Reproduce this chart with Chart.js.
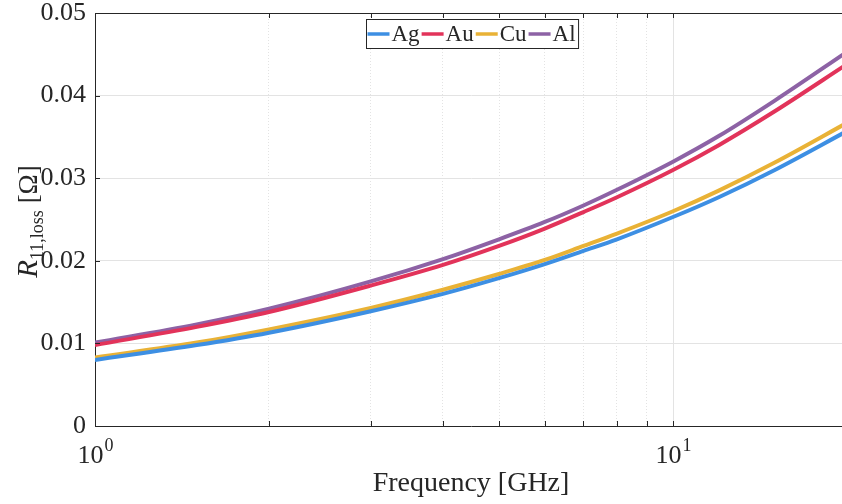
<!DOCTYPE html>
<html lang="en">
<head>
  <meta charset="UTF-8">
  <title>R11 loss vs frequency</title>
  <script src="https://cdn.jsdelivr.net/npm/chart.js"></script>
  <style>
    html, body {
      margin: 0;
      padding: 0;
      background: #fff;
      overflow: hidden;
    }
    #wrap {
      width: 842px;
      height: 504px;
      overflow: hidden;
    }
  </style>
</head>
<body>
  <div id="wrap">
    <canvas id="chart" width="847" height="504"></canvas>
  </div>

<script>
// frequency points (GHz) and R11 loss values (ohm)
const freqs  = [1, 1.5, 2, 3, 4, 5, 6, 7, 8, 10, 12, 15, 20];
const agVals = [0.0080, 0.0098, 0.0113, 0.0139, 0.0160, 0.0179, 0.0196, 0.0212, 0.0226, 0.0253, 0.0277, 0.0310, 0.0357];
const auVals = [0.0098, 0.0120, 0.0138, 0.0170, 0.0195, 0.0218, 0.0239, 0.0259, 0.0277, 0.0310, 0.0340, 0.0381, 0.0438];
const cuVals = [0.0083, 0.0101, 0.0117, 0.0143, 0.0165, 0.0184, 0.0201, 0.0218, 0.0233, 0.0260, 0.0285, 0.0319, 0.0367];
const alVals = [0.0101, 0.0123, 0.0142, 0.0175, 0.0202, 0.0226, 0.0247, 0.0267, 0.0286, 0.0320, 0.0351, 0.0394, 0.0453];

const seriesNames  = ['Ag', 'Au', 'Cu', 'Al'];
const seriesColors = ['#3d8fe3', '#e2335a', '#e9b236', '#8d62a5'];

const xTicks = [1, 2, 3, 4, 5, 6, 7, 8, 9, 10, 20];
const xLabels = { 1: ['10', '0'], 10: ['10', '1'] };
const yTicks = [0, 0.01, 0.02, 0.03, 0.04, 0.05];

const SERIF = "'Liberation Serif', 'Times New Roman', serif";
const TXT = '#262626';

function toPoints(vals) {
  return vals.map((v, i) => ({ x: freqs[i], y: v }));
}

const allVals = [agVals, auVals, cuVals, alVals];

// tick marks on the inside plus top box line
const boxPlugin = {
  id: 'boxPlugin',
  afterDatasetsDraw(chart) {
    const { ctx, chartArea: a, scales } = chart;
    ctx.save();
    ctx.strokeStyle = '#262626';
    ctx.lineWidth = 1;
    ctx.beginPath();
    ctx.moveTo(a.left, a.top + 0.5);
    ctx.lineTo(a.right, a.top + 0.5);
    xTicks.forEach(v => {
      if (v === 1 || v === 20) return;
      const px = Math.round(scales.x.getPixelForValue(v)) + 0.5;
      ctx.moveTo(px, a.bottom);
      ctx.lineTo(px, a.bottom - 5);
      ctx.moveTo(px, a.top);
      ctx.lineTo(px, a.top + 5);
    });
    yTicks.forEach(v => {
      if (v === 0 || v === 0.05) return;
      const py = Math.round(scales.y.getPixelForValue(v)) + 0.5;
      ctx.moveTo(a.left, py);
      ctx.lineTo(a.left + 5, py);
    });
    ctx.stroke();
    ctx.restore();
  }
};

// 10^n labels under the log axis
const xLabelPlugin = {
  id: 'xLabelPlugin',
  afterDraw(chart) {
    const { ctx, scales } = chart;
    ctx.save();
    ctx.fillStyle = TXT;
    ctx.textBaseline = 'alphabetic';
    Object.keys(xLabels).forEach(k => {
      const [base, exp] = xLabels[k];
      const px = scales.x.getPixelForValue(Number(k));
      ctx.font = '26px ' + SERIF;
      const wb = ctx.measureText(base).width;
      ctx.font = '18px ' + SERIF;
      const we = ctx.measureText(exp).width;
      const x0 = px - (wb + we) / 2;
      ctx.font = '26px ' + SERIF;
      ctx.fillText(base, x0, 463);
      ctx.font = '18px ' + SERIF;
      ctx.fillText(exp, x0 + wb + 1, 451);
    });
    ctx.restore();
  }
};

// legend box inside the plot, top centre
const legendPlugin = {
  id: 'legendPlugin',
  afterDraw(chart) {
    const { ctx } = chart;
    ctx.save();
    ctx.font = '23px ' + SERIF;
    const lineLen = 22, gap = 2, pad = 1;
    let total = pad;
    const items = chart.data.datasets.map(ds => {
      const w = ctx.measureText(ds.label).width;
      total += lineLen + gap + w + gap;
      return { label: ds.label, color: ds.borderColor, w: w };
    });
    total += pad;
    const cx = 472;
    const left = Math.round(cx - total / 2) + 0.5;
    const top = 19.5, h = 29;
    ctx.fillStyle = '#fff';
    ctx.fillRect(left, top, total, h);
    ctx.strokeStyle = '#262626';
    ctx.lineWidth = 1;
    ctx.strokeRect(left, top, total, h);
    let x = left + pad;
    const midY = top + h / 2;
    items.forEach(it => {
      ctx.strokeStyle = it.color;
      ctx.lineWidth = 3.5;
      ctx.beginPath();
      ctx.moveTo(x, midY);
      ctx.lineTo(x + lineLen, midY);
      ctx.stroke();
      x += lineLen + gap;
      ctx.fillStyle = TXT;
      ctx.textBaseline = 'middle';
      ctx.fillText(it.label, x, midY + 1);
      x += it.w + gap;
    });
    ctx.restore();
  }
};

// rotated y-axis title with italic R and subscript
const yTitlePlugin = {
  id: 'yTitlePlugin',
  afterDraw(chart) {
    const { ctx, chartArea: a } = chart;
    const parts = [
      { t: 'R', font: 'italic 29px ' + SERIF, dy: 0 },
      { t: '11,loss', font: '18px ' + SERIF, dy: 6 },
      { t: ' [Ω]', font: '27px ' + SERIF, dy: 0 }
    ];
    ctx.save();
    let total = 0;
    parts.forEach(p => { ctx.font = p.font; p.w = ctx.measureText(p.t).width; total += p.w; });
    ctx.translate(37, (a.top + a.bottom) / 2 + 2);
    ctx.rotate(-Math.PI / 2);
    ctx.fillStyle = TXT;
    ctx.textBaseline = 'alphabetic';
    let x = -total / 2;
    parts.forEach(p => {
      ctx.font = p.font;
      ctx.fillText(p.t, x, p.dy);
      x += p.w;
    });
    ctx.restore();
  }
};

new Chart(document.getElementById('chart'), {
  type: 'line',
  data: {
    datasets: seriesNames.map((name, i) => ({
      label: name,
      data: toPoints(allVals[i]),
      borderColor: seriesColors[i],
      backgroundColor: seriesColors[i],
      borderWidth: 4,
      pointRadius: 0,
      cubicInterpolationMode: 'monotone',
      fill: false
    }))
  },
  options: {
    responsive: false,
    animation: false,
    layout: { padding: { top: 13, right: 0, left: 0, bottom: 0 } },
    plugins: {
      legend: { display: false },
      tooltip: { enabled: false }
    },
    scales: {
      x: {
        type: 'logarithmic',
        min: 1,
        max: 20,
        afterBuildTicks: s => { s.ticks = xTicks.map(v => ({ value: v })); },
        afterFit: s => { s.height = 78; s.paddingLeft = 0; s.paddingRight = 0; },
        ticks: {
          autoSkip: false,
          maxRotation: 0,
          padding: 12,
          color: TXT,
          font: { family: SERIF, size: 26 },
          callback: () => ''
        },
        grid: {
          drawTicks: false,
          color: ctx => (ctx.tick && (ctx.tick.value === 1 || ctx.tick.value === 20)) ? 'rgba(0,0,0,0)' : '#e3e3e3',
          lineWidth: 1
        },
        border: {
          display: true,
          color: '#262626',
          width: 1,
          dash: ctx => (ctx.tick && ctx.tick.value !== 10) ? [1, 2] : []
        },
        title: {
          display: true,
          text: 'Frequency [GHz]',
          color: TXT,
          font: { family: SERIF, size: 28 },
          padding: { top: 0, bottom: 4 }
        }
      },
      y: {
        min: 0,
        max: 0.05,
        afterBuildTicks: s => { s.ticks = yTicks.map(v => ({ value: v })); },
        afterFit: s => { s.width = 95; s.paddingTop = 0; s.paddingBottom = 0; },
        ticks: {
          padding: 9,
          color: TXT,
          font: { family: SERIF, size: 26 },
          callback: v => v === 0 ? '0' : v.toFixed(2)
        },
        grid: {
          drawTicks: false,
          color: ctx => (ctx.tick && (ctx.tick.value === 0 || ctx.tick.value === 0.05)) ? 'rgba(0,0,0,0)' : '#e3e3e3',
          lineWidth: 1
        },
        border: { display: true, color: '#262626', width: 1 }
      }
    }
  },
  plugins: [boxPlugin, xLabelPlugin, legendPlugin, yTitlePlugin]
});
</script>
</body>
</html>
